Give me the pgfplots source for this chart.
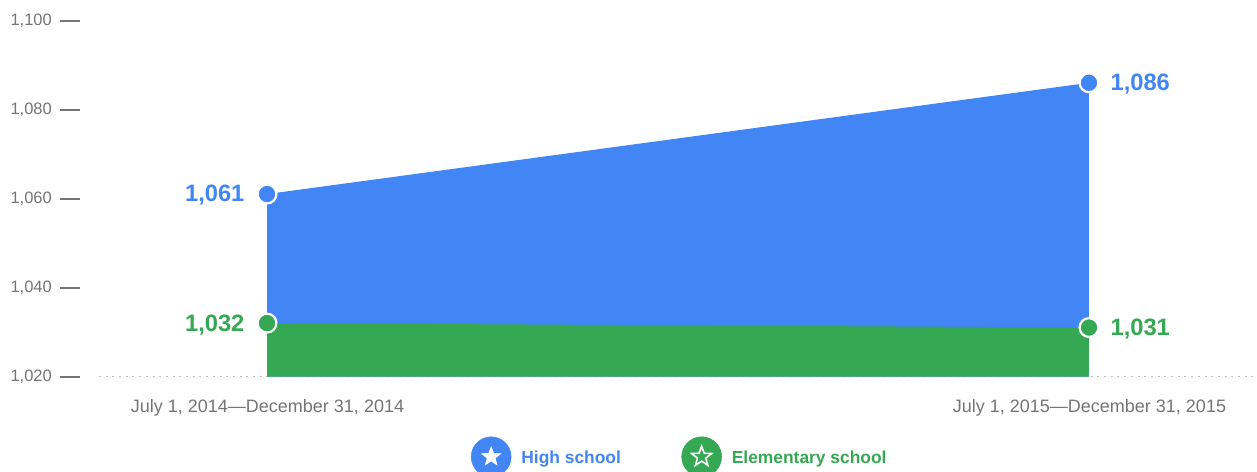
\documentclass[border=0pt]{standalone}
\usepackage{fontspec}
\setmainfont{Liberation Sans}
\usepackage{pgfplots}
\usepackage{pgfplotstable}
\pgfplotsset{compat=1.18}
\usetikzlibrary{shapes.geometric}
\definecolor{hsblue}{HTML}{4285F4}
\definecolor{esgreen}{HTML}{34A853}
\definecolor{tickgrey}{HTML}{757575}
\definecolor{dotgrey}{HTML}{BDBDBD}

\pgfplotstableread{
x y
0 1061
1 1086
}\highschool
\pgfplotstableread{
x y
0 1032
1 1031
}\elementary

% end points with their value beside them
\pgfplotsset{
  pointlabels/.style n args={3}{
    only marks, mark=*, mark size=9.4pt,
    mark options={fill=#1, draw=white, line width=2.2pt},
    forget plot,
    point meta=y,
    nodes near coords,
    every node near coord/.append style={
      anchor=#2, xshift=#3, yshift=-1.5pt, font=\fontsize{23.7}{24}\selectfont\bfseries, text=#1,
      inner sep=0pt, /pgf/number format/1000 sep={,},
      /pgf/number format/assume math mode=true,
    },
  },
}

\begin{document}
\begin{tikzpicture}[x=1pt, y=1pt]
  \path[use as bounding box, clip] (0,0) rectangle (1257,471);
  \begin{axis}[
    at={(80pt,94.5pt)}, anchor=south west,
    scale only axis,
    width=1177pt, height=356pt,
    xmin=-0.2275, xmax=1.2044,
    ymin=1020, ymax=1100,
    clip=false,
    axis x line=bottom, axis y line=left,
    axis line style={draw=none},
    tick align=outside,
    major tick length=20pt,
    xtick={0,1},
    xticklabels={{July 1, 2014—December 31, 2014},{July 1, 2015—December 31, 2015}},
    x tick style={draw=none},
    ytick={1020,1040,1060,1080,1100},
    y tick style={draw=tickgrey, line width=2pt},
    tick label style={text=tickgrey, inner sep=0pt},
    /pgf/number format/.cd, 1000 sep={,}, assume math mode=true, /pgfplots/.cd,
    x tick label style={yshift=-16pt, xshift=0.5pt, anchor=base, font=\fontsize{18}{18}\selectfont},
    y tick label style={anchor=east, xshift=-8pt, yshift=-0.5pt, font=\fontsize{16.5}{17}\selectfont},
    legend style={
      at={(0.332,-0.2255)}, anchor=west, draw=none, fill=none,
      legend columns=2, inner sep=0pt,
      /tikz/every even column/.append style={column sep=60.5pt},
      font=\fontsize{17.4}{18}\selectfont\bfseries,
      nodes={inner sep=0pt},
    },
  ]
    \addplot[dotgrey, line width=1.5pt, dash pattern=on 2pt off 4.7pt, forget plot]
      coordinates {(-0.2044,1020) (1.2044,1020)};

    \addplot[draw=none, fill=hsblue, forget plot] table[x=x, y=y] {\highschool} \closedcycle;
    \addplot[draw=none, fill=esgreen, forget plot] table[x=x, y=y] {\elementary} \closedcycle;

    \addplot[pointlabels={hsblue}{east}{-21.5pt}, skip coords between index={1}{2}] table[x=x, y=y] {\highschool};
    \addplot[pointlabels={hsblue}{west}{20.5pt}, skip coords between index={0}{1}] table[x=x, y=y] {\highschool};
    \addplot[pointlabels={esgreen}{east}{-21.5pt}, skip coords between index={1}{2}] table[x=x, y=y] {\elementary};
    \addplot[pointlabels={esgreen}{west}{20.5pt}, skip coords between index={0}{1}] table[x=x, y=y] {\elementary};

    \addlegendimage{legend image code/.code={
      \path (30pt,0pt) circle (0pt);
      \fill[hsblue] (0pt,1pt) circle (20pt);
      \node[star, star points=5, star point ratio=2.4, fill=white, minimum size=22pt, inner sep=0pt] at (0pt,1pt) {};
    }}
    \addlegendentry{\textcolor{hsblue}{High school}}
    \addlegendimage{legend image code/.code={
      \path (30pt,0pt) circle (0pt);
      \fill[esgreen] (0pt,1pt) circle (20pt);
      \node[star, star points=5, star point ratio=2.4, draw=white, line width=1.6pt, minimum size=21pt, inner sep=0pt] at (0pt,1pt) {};
    }}
    \addlegendentry{\textcolor{esgreen}{Elementary school}}
  \end{axis}
\end{tikzpicture}
\end{document}
